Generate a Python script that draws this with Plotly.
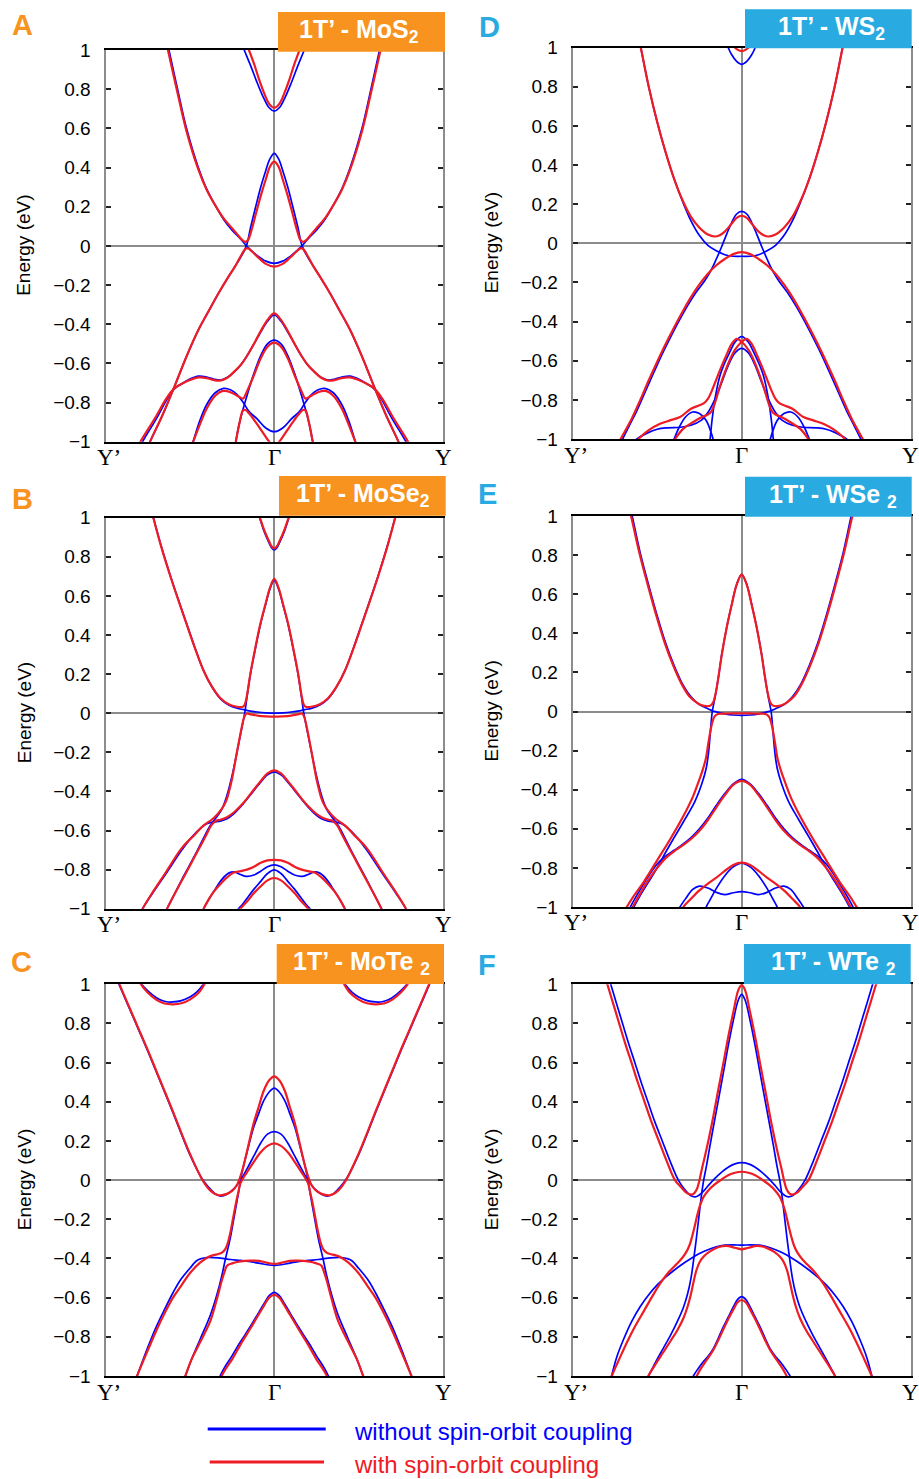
import plotly.graph_objects as go

W, H = 919, 1479

# ---------------------------------------------------------------- axes text
K_TICKS = [-1, 0, 1]
K_LABELS = ["Y’", "Γ", "Y"]
E_TICKS = [1, 0.8, 0.6, 0.4, 0.2, 0, -0.2, -0.4, -0.6, -0.8, -1]
E_LABELS = ["1", "0.8", "0.6", "0.4", "0.2", "0", "−0.2", "−0.4", "−0.6", "−0.8", "−1"]

LEGEND_NO_SOC = "without spin-orbit coupling"
LEGEND_SOC = "with spin-orbit coupling"

# ---------------------------------------------------------------- band knots
# Each list holds (k, E) knots along Γ→Y (k in units of Γ–Y); the Y'→Γ half
# is the mirror image.  E in eV relative to the Fermi level.

# A: 1T'-MoS2
A_blue_c2 = [(0, 0.688), (0.03, 0.705), (0.06, 0.75), (0.1, 0.83), (0.14, 0.92), (0.178, 1.0), (0.21, 1.07)]
A_red_c2 = [(0, 0.705), (0.03, 0.725), (0.06, 0.78), (0.09, 0.85), (0.12, 0.93), (0.15, 1.0), (0.18, 1.07)]
A_blue_v1 = [(0, 0.472), (0.025, 0.445), (0.05, 0.385), (0.08, 0.3), (0.11, 0.2), (0.14, 0.095), (0.165, 0.0),
             (0.2, -0.06), (0.233, -0.106), (0.28, -0.17), (0.331, -0.243), (0.39, -0.335), (0.45, -0.43),
             (0.52, -0.565), (0.588, -0.711), (0.66, -0.86), (0.736, -1.0), (0.76, -1.05)]
A_blue_c1 = [(0, -0.089), (0.05, -0.078), (0.1, -0.05), (0.14, -0.02), (0.165, 0.0), (0.2, 0.035), (0.25, 0.08),
             (0.3, 0.135), (0.345, 0.2), (0.4, 0.29), (0.45, 0.4), (0.52, 0.6), (0.573, 0.8), (0.624, 1.0), (0.65, 1.1)]
A_red_c1 = [(0, 0.43), (0.025, 0.405), (0.05, 0.34), (0.08, 0.255), (0.11, 0.16), (0.135, 0.08), (0.155, 0.03),
            (0.17, 0.02), (0.19, 0.03), (0.22, 0.06), (0.25, 0.09), (0.3, 0.14), (0.345, 0.2), (0.4, 0.285),
            (0.45, 0.39), (0.52, 0.585), (0.578, 0.8), (0.63, 1.0), (0.655, 1.1)]
A_red_v1 = [(0, -0.106), (0.05, -0.092), (0.1, -0.055), (0.13, -0.03), (0.155, -0.013), (0.17, -0.015),
            (0.2, -0.055), (0.233, -0.106), (0.28, -0.17), (0.331, -0.243), (0.39, -0.335), (0.45, -0.43),
            (0.52, -0.565), (0.588, -0.711), (0.66, -0.86), (0.736, -1.0), (0.76, -1.05)]
A_blue_v2 = [(0, -0.353), (0.04, -0.385), (0.08, -0.44), (0.12, -0.5), (0.16, -0.56), (0.2, -0.61), (0.24, -0.645),
             (0.28, -0.672), (0.32, -0.685), (0.36, -0.68), (0.4, -0.67), (0.448, -0.665), (0.5, -0.68),
             (0.55, -0.705), (0.592, -0.73), (0.64, -0.79), (0.7, -0.885), (0.78, -1.0), (0.8, -1.04)]
A_red_v2 = [(0, -0.345), (0.04, -0.378), (0.08, -0.435), (0.12, -0.5), (0.16, -0.56), (0.2, -0.61), (0.24, -0.645),
            (0.28, -0.675), (0.32, -0.688), (0.36, -0.685), (0.4, -0.675), (0.448, -0.672), (0.5, -0.685),
            (0.55, -0.705), (0.592, -0.728), (0.64, -0.78), (0.7, -0.87), (0.793, -1.0), (0.81, -1.03)]
A_blue_v3 = [(0, -0.481), (0.04, -0.5), (0.08, -0.56), (0.12, -0.65), (0.16, -0.76), (0.19, -0.85), (0.21, -0.92),
             (0.228, -1.0), (0.24, -1.05)]
A_blue_v4 = [(0, -0.949), (0.05, -0.93), (0.1, -0.885), (0.15, -0.845), (0.18, -0.805), (0.22, -0.76),
             (0.26, -0.735), (0.3, -0.728), (0.35, -0.75), (0.4, -0.81), (0.44, -0.89), (0.481, -1.0), (0.5, -1.05)]
A_red_v3 = [(0, -0.494), (0.04, -0.515), (0.08, -0.574), (0.12, -0.66), (0.16, -0.74), (0.185, -0.78),
            (0.2, -0.775), (0.24, -0.755), (0.28, -0.742), (0.31, -0.742), (0.35, -0.765), (0.4, -0.83),
            (0.44, -0.91), (0.48, -1.0), (0.5, -1.05)]
A_red_v4 = [(0, -1.03), (0.03, -1.0), (0.07, -0.95), (0.11, -0.9), (0.145, -0.86), (0.17, -0.838), (0.185, -0.84),
            (0.205, -0.9), (0.228, -1.0), (0.24, -1.05)]

# B: 1T'-MoSe2
B_blue_c2 = [(0, 0.835), (0.015, 0.845), (0.03, 0.87), (0.06, 0.93), (0.087, 1.0), (0.11, 1.05)]
B_red_c2 = [(0, 0.843), (0.015, 0.853), (0.03, 0.878), (0.06, 0.938), (0.085, 1.0), (0.11, 1.06)]
B_blue_v1 = [(0, 0.679), (0.024, 0.64), (0.053, 0.55), (0.083, 0.45), (0.112, 0.33), (0.142, 0.195),
             (0.162, 0.08), (0.175, 0.0), (0.191, -0.07), (0.221, -0.2), (0.25, -0.32), (0.28, -0.42),
             (0.31, -0.49), (0.345, -0.535), (0.38, -0.575), (0.42, -0.64), (0.46, -0.71), (0.5, -0.775),
             (0.55, -0.855), (0.6, -0.94), (0.635, -1.0), (0.65, -1.03)]
B_blue_c1 = [(0, 0.0), (0.05, 0.002), (0.1, 0.006), (0.15, 0.012), (0.18, 0.018), (0.22, 0.025), (0.27, 0.042),
             (0.32, 0.075), (0.37, 0.135), (0.42, 0.22), (0.47, 0.335), (0.52, 0.46), (0.57, 0.585),
             (0.62, 0.715), (0.67, 0.855), (0.716, 1.0), (0.75, 1.11)]
B_red_c1 = [(0, 0.687), (0.024, 0.645), (0.053, 0.555), (0.083, 0.455), (0.112, 0.335), (0.142, 0.2),
            (0.162, 0.09), (0.177, 0.04), (0.19, 0.032), (0.22, 0.033), (0.27, 0.046), (0.32, 0.078),
            (0.37, 0.137), (0.42, 0.22), (0.47, 0.333), (0.52, 0.457), (0.57, 0.582), (0.62, 0.712),
            (0.67, 0.852), (0.717, 1.0), (0.75, 1.11)]
B_red_v1 = [(0, -0.018), (0.05, -0.016), (0.1, -0.012), (0.14, -0.006), (0.165, -0.002), (0.178, -0.02),
            (0.191, -0.065), (0.206, -0.13), (0.221, -0.198), (0.236, -0.27), (0.25, -0.335), (0.265, -0.39),
            (0.28, -0.437), (0.3, -0.475), (0.32, -0.5), (0.345, -0.525), (0.371, -0.545), (0.42, -0.575),
            (0.47, -0.62), (0.548, -0.69), (0.647, -0.82), (0.72, -0.915), (0.78, -1.0), (0.8, -1.04)]
B_blue_v2 = [(0, -0.3), (0.04, -0.315), (0.083, -0.355), (0.12, -0.395), (0.162, -0.44), (0.2, -0.48),
             (0.24, -0.515), (0.28, -0.54), (0.32, -0.552), (0.36, -0.556), (0.4, -0.565), (0.44, -0.59),
             (0.49, -0.635), (0.548, -0.7), (0.647, -0.828), (0.72, -0.92), (0.78, -1.0), (0.8, -1.04)]
B_red_v2 = [(0, -0.292), (0.04, -0.308), (0.083, -0.35), (0.12, -0.39), (0.162, -0.437), (0.2, -0.475),
            (0.24, -0.508), (0.28, -0.532), (0.32, -0.545), (0.345, -0.55), (0.37, -0.57), (0.41, -0.635),
            (0.46, -0.715), (0.5, -0.78), (0.55, -0.86), (0.6, -0.94), (0.635, -1.0), (0.65, -1.03)]
B_red_v3 = [(0, -0.75), (0.04, -0.753), (0.08, -0.765), (0.12, -0.785), (0.162, -0.8), (0.2, -0.808),
            (0.24, -0.815), (0.28, -0.84), (0.32, -0.875), (0.36, -0.915), (0.39, -0.955), (0.418, -1.0),
            (0.43, -1.03)]
B_blue_v3 = [(0, -0.776), (0.04, -0.785), (0.08, -0.808), (0.12, -0.828), (0.165, -0.835), (0.2, -0.825),
             (0.235, -0.812), (0.27, -0.818), (0.31, -0.85), (0.35, -0.9), (0.39, -0.955), (0.418, -1.0),
             (0.43, -1.03)]
B_blue_v4 = [(0, -0.801), (0.04, -0.82), (0.08, -0.86), (0.12, -0.9), (0.16, -0.945), (0.19, -0.98),
             (0.212, -1.0), (0.23, -1.03)]
B_red_v4 = [(0, -0.843), (0.04, -0.855), (0.08, -0.885), (0.12, -0.92), (0.16, -0.962), (0.2, -1.0), (0.22, -1.03)]

# C: 1T'-MoTe2
C_blue_c2 = [(0.4, 1.03), (0.42, 1.0), (0.46, 0.96), (0.5, 0.935), (0.55, 0.917), (0.6, 0.91), (0.64, 0.911),
             (0.68, 0.922), (0.72, 0.945), (0.76, 0.975), (0.785, 1.0), (0.8, 1.02)]
C_red_c2 = [(0.39, 1.03), (0.414, 1.0), (0.45, 0.955), (0.5, 0.922), (0.55, 0.903), (0.6, 0.898), (0.65, 0.902),
            (0.7, 0.922), (0.75, 0.958), (0.79, 1.0), (0.81, 1.03)]
C_blue_c1 = [(0, 0.248), (0.04, 0.235), (0.08, 0.19), (0.12, 0.125), (0.16, 0.06), (0.2, 0.0), (0.24, -0.045),
             (0.28, -0.072), (0.315, -0.082), (0.35, -0.07), (0.39, -0.035), (0.43, 0.01), (0.5, 0.13),
             (0.55, 0.235), (0.6, 0.345), (0.65, 0.45), (0.7, 0.555), (0.75, 0.66), (0.8, 0.76), (0.85, 0.86),
             (0.9, 0.96), (0.92, 1.0), (0.95, 1.06)]
C_red_c1 = [(0, 0.53), (0.03, 0.51), (0.063, 0.455), (0.09, 0.38), (0.122, 0.29), (0.162, 0.145), (0.191, 0.045),
            (0.221, -0.025), (0.25, -0.055), (0.28, -0.07), (0.33, -0.077), (0.38, -0.052), (0.425, 0.0),
            (0.5, 0.135), (0.55, 0.24), (0.6, 0.35), (0.65, 0.455), (0.7, 0.56), (0.75, 0.665), (0.8, 0.765),
            (0.85, 0.865), (0.9, 0.965), (0.917, 1.0), (0.95, 1.07)]
C_blue_v1 = [(0, 0.47), (0.03, 0.45), (0.063, 0.405), (0.09, 0.345), (0.122, 0.27), (0.162, 0.14),
             (0.191, 0.04), (0.211, -0.06), (0.24, -0.199), (0.26, -0.293), (0.29, -0.405), (0.31, -0.485),
             (0.34, -0.585), (0.379, -0.69), (0.438, -0.81), (0.49, -0.915), (0.527, -1.0), (0.54, -1.03)]
C_red_v1 = [(0, 0.188), (0.04, 0.175), (0.083, 0.14), (0.12, 0.095), (0.162, 0.04), (0.2, -0.015),
            (0.215, -0.07), (0.23, -0.13), (0.245, -0.2), (0.26, -0.267), (0.275, -0.32), (0.29, -0.352),
            (0.31, -0.37), (0.33, -0.377), (0.36, -0.383), (0.39, -0.392), (0.438, -0.42), (0.5, -0.475),
            (0.556, -0.545), (0.6, -0.6), (0.65, -0.68), (0.7, -0.77), (0.75, -0.87), (0.813, -1.0), (0.83, -1.04)]
C_blue_v2 = [(0, -0.435), (0.04, -0.432), (0.083, -0.425), (0.15, -0.415), (0.2, -0.41), (0.26, -0.405),
             (0.32, -0.398), (0.389, -0.394), (0.43, -0.4), (0.458, -0.41), (0.5, -0.45), (0.556, -0.51),
             (0.6, -0.575), (0.65, -0.66), (0.7, -0.75), (0.75, -0.855), (0.813, -1.0), (0.83, -1.04)]
C_red_v2 = [(0, -0.428), (0.04, -0.422), (0.09, -0.412), (0.142, -0.411), (0.2, -0.415), (0.25, -0.425),
            (0.28, -0.437), (0.295, -0.47), (0.31, -0.51), (0.34, -0.607), (0.379, -0.72), (0.438, -0.825),
            (0.49, -0.915), (0.527, -1.0), (0.54, -1.03)]
C_blue_v3 = [(0, -0.573), (0.03, -0.59), (0.06, -0.63), (0.095, -0.68), (0.14, -0.745), (0.193, -0.816),
             (0.225, -0.86), (0.252, -0.9), (0.29, -0.95), (0.321, -1.0), (0.335, -1.03)]
C_red_v3 = [(0, -0.586), (0.03, -0.6), (0.06, -0.64), (0.095, -0.69), (0.14, -0.755), (0.19, -0.825),
            (0.22, -0.87), (0.25, -0.915), (0.285, -0.96), (0.312, -1.0), (0.325, -1.03)]

# D: 1T'-WS2
D_blue_c2 = [(0, 0.915), (0.03, 0.93), (0.06, 0.965), (0.085, 1.01), (0.1, 1.04)]
D_red_c2 = [(0, 0.982), (0.025, 0.99), (0.05, 1.01), (0.07, 1.04)]
D_red_c1 = [(0, 0.141), (0.03, 0.13), (0.06, 0.1), (0.1, 0.06), (0.13, 0.042), (0.16, 0.035), (0.2, 0.045),
            (0.25, 0.08), (0.3, 0.135), (0.35, 0.22), (0.4, 0.33), (0.45, 0.465), (0.5, 0.62), (0.55, 0.8),
            (0.59, 0.97), (0.62, 1.1)]
D_blue_c1 = [(0, -0.066), (0.05, -0.066), (0.1, -0.058), (0.15, -0.038), (0.2, -0.01), (0.25, 0.04),
             (0.3, 0.115), (0.35, 0.215), (0.4, 0.33), (0.45, 0.465), (0.5, 0.62), (0.55, 0.8), (0.59, 0.97),
             (0.62, 1.1)]
D_blue_v1 = [(0, 0.163), (0.03, 0.15), (0.06, 0.105), (0.09, 0.045), (0.12, -0.02), (0.15, -0.08),
             (0.18, -0.135), (0.22, -0.192), (0.27, -0.25), (0.32, -0.318), (0.37, -0.395), (0.42, -0.478),
             (0.47, -0.565), (0.52, -0.66), (0.57, -0.757), (0.62, -0.855), (0.67, -0.94), (0.71, -1.01),
             (0.73, -1.05)]
D_red_v1 = [(0, -0.045), (0.05, -0.055), (0.1, -0.08), (0.15, -0.112), (0.2, -0.155), (0.25, -0.21),
            (0.3, -0.275), (0.35, -0.35), (0.4, -0.43), (0.45, -0.515), (0.5, -0.605), (0.55, -0.7), (0.6, -0.8),
            (0.65, -0.895), (0.716, -1.0), (0.74, -1.04)]
D_blue_v2 = [(0, -0.477), (0.04, -0.505), (0.07, -0.555), (0.1, -0.61), (0.13, -0.68), (0.155, -0.78),
             (0.175, -0.9), (0.187, -1.0), (0.195, -1.06)]
D_blue_v3 = [(0, -0.537), (0.04, -0.56), (0.08, -0.625), (0.12, -0.715), (0.16, -0.8), (0.2, -0.865),
             (0.24, -0.905), (0.3, -0.93), (0.36, -0.94), (0.44, -0.943), (0.5, -0.95), (0.56, -0.97), (0.62, -1.0),
             (0.65, -1.03)]
D_blue_v4 = [(0.16, -1.03), (0.18, -0.97), (0.21, -0.905), (0.25, -0.87), (0.29, -0.862), (0.33, -0.885),
             (0.37, -0.94), (0.4, -1.0), (0.42, -1.04)]
# spin-split pair crossing at Γ: knots run across the whole path Y'→Y
D_red_v2_path = [(-0.42, -1.04), (-0.394, -1.0), (-0.345, -0.947), (-0.286, -0.913), (-0.24, -0.89),
                 (-0.2, -0.875), (-0.18, -0.86), (-0.16, -0.82), (-0.13, -0.735), (-0.1, -0.66), (-0.07, -0.595),
                 (-0.04, -0.545), (0, -0.503), (0.03, -0.488), (0.06, -0.515), (0.09, -0.57), (0.12, -0.63),
                 (0.15, -0.695), (0.175, -0.75), (0.2, -0.795), (0.225, -0.818), (0.25, -0.828), (0.3, -0.845),
                 (0.365, -0.888), (0.424, -0.905), (0.483, -0.922), (0.55, -0.955), (0.611, -1.0), (0.64, -1.03)]

# E: 1T'-WSe2
E_blue_v1 = [(0, 0.702), (0.03, 0.65), (0.059, 0.548), (0.089, 0.429), (0.118, 0.292), (0.138, 0.173),
             (0.158, 0.071), (0.174, 0.0), (0.185, -0.1), (0.195, -0.2), (0.21, -0.29), (0.237, -0.372),
             (0.276, -0.458), (0.335, -0.55), (0.4, -0.645), (0.45, -0.72), (0.5, -0.8), (0.55, -0.87),
             (0.6, -0.94), (0.638, -1.0), (0.66, -1.04)]
E_blue_c1 = [(0, -0.02), (0.05, -0.018), (0.1, -0.012), (0.15, -0.002), (0.174, 0.004), (0.2, 0.014),
             (0.25, 0.035), (0.3, 0.075), (0.35, 0.14), (0.4, 0.235), (0.45, 0.35), (0.5, 0.49), (0.55, 0.645),
             (0.6, 0.81), (0.648, 1.0), (0.67, 1.08)]
E_red_c1 = [(0, 0.7), (0.03, 0.648), (0.059, 0.546), (0.089, 0.428), (0.118, 0.29), (0.138, 0.175), (0.155, 0.09),
            (0.17, 0.045), (0.185, 0.03), (0.207, 0.027), (0.24, 0.033), (0.27, 0.048), (0.31, 0.078),
            (0.355, 0.14), (0.405, 0.235), (0.455, 0.35), (0.505, 0.49), (0.555, 0.645), (0.605, 0.81),
            (0.655, 1.0), (0.68, 1.08)]
E_red_v1 = [(0, -0.009), (0.05, -0.01), (0.1, -0.011), (0.14, -0.013), (0.16, -0.025), (0.172, -0.05),
            (0.185, -0.1), (0.197, -0.16), (0.212, -0.24), (0.235, -0.31), (0.26, -0.37), (0.286, -0.43),
            (0.345, -0.535), (0.424, -0.655), (0.503, -0.765), (0.582, -0.875), (0.64, -0.945), (0.68, -1.0),
            (0.7, -1.03)]
E_blue_v2 = [(0, -0.347), (0.05, -0.37), (0.1, -0.42), (0.15, -0.48), (0.2, -0.545), (0.25, -0.6), (0.3, -0.645),
             (0.35, -0.68), (0.4, -0.71), (0.45, -0.74), (0.5, -0.78), (0.55, -0.84), (0.6, -0.91), (0.65, -0.985),
             (0.68, -1.04)]
E_red_v2 = [(0, -0.355), (0.05, -0.375), (0.1, -0.428), (0.15, -0.49), (0.2, -0.555), (0.25, -0.61),
            (0.3, -0.652), (0.35, -0.685), (0.4, -0.715), (0.45, -0.75), (0.5, -0.8), (0.55, -0.86), (0.6, -0.93),
            (0.645, -1.0), (0.67, -1.04)]
E_red_v3 = [(0, -0.773), (0.05, -0.785), (0.1, -0.815), (0.15, -0.85), (0.2, -0.88), (0.25, -0.915),
            (0.3, -0.958), (0.345, -1.0), (0.36, -1.03)]
E_blue_v3 = [(0, -0.776), (0.05, -0.795), (0.1, -0.84), (0.15, -0.905), (0.185, -0.96), (0.21, -1.0), (0.22, -1.03)]
E_blue_v4 = [(0, -0.921), (0.05, -0.927), (0.1, -0.937), (0.15, -0.925), (0.2, -0.903), (0.25, -0.893),
             (0.29, -0.91), (0.33, -0.955), (0.365, -1.0), (0.38, -1.03)]

# F: 1T'-WTe2
F_blue_v1 = [(0, 0.949), (0.02, 0.92), (0.049, 0.818), (0.08, 0.685), (0.108, 0.55), (0.14, 0.4), (0.168, 0.27),
             (0.19, 0.165), (0.208, 0.075), (0.225, 0.0), (0.24, -0.09), (0.255, -0.2), (0.27, -0.31),
             (0.285, -0.41), (0.3, -0.5), (0.32, -0.58), (0.345, -0.65), (0.38, -0.72), (0.42, -0.79),
             (0.465, -0.86), (0.51, -0.93), (0.552, -1.0), (0.57, -1.03)]
F_red_c1 = [(0, 0.997), (0.02, 0.97), (0.049, 0.86), (0.08, 0.73), (0.108, 0.6), (0.14, 0.455), (0.168, 0.325),
            (0.195, 0.21), (0.217, 0.125), (0.235, 0.06), (0.25, 0.0), (0.265, -0.045), (0.285, -0.07),
            (0.305, -0.073), (0.33, -0.062), (0.36, -0.035), (0.395, 0.0), (0.445, 0.1), (0.49, 0.2),
            (0.535, 0.3), (0.575, 0.4), (0.615, 0.5), (0.652, 0.6), (0.69, 0.7), (0.725, 0.8), (0.76, 0.9),
            (0.795, 1.0), (0.82, 1.07)]
F_blue_c1 = [(0, 0.089), (0.04, 0.083), (0.08, 0.066), (0.12, 0.04), (0.16, 0.008), (0.2, -0.03), (0.23, -0.06),
             (0.255, -0.078), (0.275, -0.085), (0.3, -0.08), (0.335, -0.05), (0.375, 0.0), (0.425, 0.1),
             (0.47, 0.2), (0.515, 0.3), (0.555, 0.4), (0.595, 0.5), (0.632, 0.6), (0.67, 0.7), (0.705, 0.8),
             (0.74, 0.9), (0.775, 1.0), (0.8, 1.07)]
F_red_v1 = [(0, 0.043), (0.04, 0.038), (0.08, 0.025), (0.12, 0.003), (0.16, -0.022), (0.2, -0.055),
            (0.225, -0.085), (0.245, -0.125), (0.262, -0.175), (0.278, -0.235), (0.294, -0.29), (0.31, -0.335),
            (0.33, -0.37), (0.355, -0.4), (0.385, -0.428), (0.43, -0.468), (0.48, -0.525), (0.53, -0.595),
            (0.58, -0.67), (0.63, -0.745), (0.68, -0.83), (0.72, -0.905), (0.769, -1.0), (0.78, -1.03)]
F_blue_v2 = [(0, -0.332), (0.05, -0.33), (0.1, -0.332), (0.15, -0.34), (0.2, -0.355), (0.25, -0.375),
             (0.3, -0.4), (0.35, -0.428), (0.4, -0.46), (0.45, -0.495), (0.5, -0.535), (0.55, -0.585),
             (0.6, -0.645), (0.65, -0.72), (0.7, -0.815), (0.74, -0.905), (0.77, -1.0), (0.78, -1.04)]
F_red_v2 = [(0, -0.353), (0.04, -0.345), (0.09, -0.336), (0.14, -0.343), (0.19, -0.365), (0.225, -0.39),
            (0.25, -0.42), (0.268, -0.46), (0.285, -0.52), (0.3, -0.58), (0.32, -0.645), (0.345, -0.705),
            (0.38, -0.765), (0.42, -0.82), (0.465, -0.88), (0.51, -0.94), (0.552, -1.0), (0.565, -1.03)]
F_blue_v3 = [(0, -0.595), (0.025, -0.61), (0.049, -0.646), (0.08, -0.7), (0.108, -0.748), (0.14, -0.81),
             (0.168, -0.86), (0.2, -0.9), (0.23, -0.93), (0.26, -0.965), (0.286, -1.0), (0.3, -1.03)]
F_red_v3 = [(0, -0.612), (0.025, -0.625), (0.049, -0.66), (0.08, -0.71), (0.108, -0.76), (0.14, -0.82),
            (0.168, -0.867), (0.207, -0.918), (0.24, -0.96), (0.266, -1.0), (0.28, -1.03)]

# ---------------------------------------------------------------- styling
BLUE = "#0000ff"
RED = "#ee1c24"
ORANGE = "#f7931e"
SKY = "#29abe2"
GREY = "#8c8c8c"
SANS = "Liberation Sans, Arial, sans-serif"
SERIF = "Liberation Serif, Times New Roman, serif"

# panel frames in pixels: (left, right, top, bottom)
PANELS = [
    dict(letter="A", colour=ORANGE, title="1T’ - MoS<sub>2</sub>", frame=(105.5, 443, 50, 441.7),
         box=(278, 445, 12, 51.7), title_xy=(359, 31), letter_xy=(22.5, 25),
         blue=[A_blue_c2, A_blue_v1, A_blue_c1, A_blue_v2, A_blue_v3, A_blue_v4],
         red=[A_red_c2, A_red_c1, A_red_v1, A_red_v2, A_red_v3, A_red_v4], red_paths=[]),
    dict(letter="B", colour=ORANGE, title="1T’ - MoSe<sub>2</sub>", frame=(105.5, 443, 517.7, 908.7),
         box=(279, 445.7, 476, 515.7), title_xy=(362.5, 495), letter_xy=(22, 499),
         blue=[B_blue_c2, B_blue_v1, B_blue_c1, B_blue_v2, B_blue_v3, B_blue_v4],
         red=[B_red_c2, B_red_c1, B_red_v1, B_red_v2, B_red_v3, B_red_v4], red_paths=[]),
    dict(letter="C", colour=ORANGE, title="1T’ - MoTe <sub>2</sub>", frame=(105.5, 443, 984.3, 1376),
         box=(276.7, 444, 944, 984), title_xy=(361, 963), letter_xy=(21.7, 961.5),
         blue=[C_blue_c2, C_blue_c1, C_blue_v1, C_blue_v2, C_blue_v3],
         red=[C_red_c2, C_red_c1, C_red_v1, C_red_v2, C_red_v3], red_paths=[]),
    dict(letter="D", colour=SKY, title="1T’ - WS<sub>2</sub>", frame=(572.7, 910.7, 47.7, 439),
         box=(745, 911.7, 9.3, 48.3), title_xy=(831.7, 28.5), letter_xy=(489.5, 26.5),
         blue=[D_blue_c2, D_blue_c1, D_blue_v1, D_blue_v2, D_blue_v3, D_blue_v4],
         red=[D_red_c2, D_red_c1, D_red_v1], red_paths=[D_red_v2_path]),
    dict(letter="E", colour=SKY, title="1T’ - WSe <sub>2</sub>", frame=(572.7, 910.7, 516, 907),
         box=(745, 911.7, 476.7, 516.7), title_xy=(833, 496), letter_xy=(488, 494.5),
         blue=[E_blue_v1, E_blue_c1, E_blue_v2, E_blue_v3, E_blue_v4],
         red=[E_red_c1, E_red_v1, E_red_v2, E_red_v3], red_paths=[]),
    dict(letter="F", colour=SKY, title="1T’ - WTe <sub>2</sub>", frame=(572.7, 910.7, 984.3, 1376),
         box=(744, 910.7, 944, 984), title_xy=(833.5, 963), letter_xy=(487, 965),
         blue=[F_blue_v1, F_blue_c1, F_blue_v2, F_blue_v3],
         red=[F_red_c1, F_red_v1, F_red_v2, F_red_v3], red_paths=[]),
]


def px(x):
    return x / W


def py(y):
    return 1 - y / H


def mirrored(half):
    """Join the Y'→Γ mirror image to a Γ→Y half band."""
    if half[0][0] == 0:
        pts = [(-k, e) for k, e in reversed(half[1:])] + list(half)
    else:
        pts = [(-k, e) for k, e in reversed(half)] + [(None, None)] + list(half)
    return [p[0] for p in pts], [p[1] for p in pts]


def flipped(path):
    pts = [(-k, e) for k, e in reversed(path)]
    return [p[0] for p in pts], [p[1] for p in pts]


fig = go.Figure()
shapes, annotations = [], []
layout = {}

for i, p in enumerate(PANELS):
    suffix = "" if i == 0 else str(i + 1)
    xa, ya = "x" + suffix, "y" + suffix

    def add(xs, ys, colour, width):
        fig.add_trace(go.Scatter(
            x=xs, y=ys, xaxis=xa, yaxis=ya, mode="lines", showlegend=False, hoverinfo="skip",
            line=dict(color=colour, width=width, shape="spline", smoothing=1.0)))

    for band in p["blue"]:
        add(*mirrored(band), BLUE, 1.7)
    for band in p["red"]:
        add(*mirrored(band), RED, 2.2)
    for path in p["red_paths"]:
        add([q[0] for q in path], [q[1] for q in path], RED, 2.2)
        add(*flipped(path), RED, 2.2)

    l, r, t, b = p["frame"]
    layout["xaxis" + suffix] = dict(
        domain=[px(l), px(r)], anchor=ya, range=[-1, 1], fixedrange=True, automargin=False,
        showline=True, linecolor="black", linewidth=2.2, mirror=True,
        ticks="", tickvals=K_TICKS, showticklabels=False,
        showgrid=False, zeroline=True, zerolinecolor=GREY, zerolinewidth=1.6)
    layout["yaxis" + suffix] = dict(
        domain=[py(b), py(t)], anchor=xa, range=[-1, 1], fixedrange=True, automargin=False,
        showline=True, linecolor=GREY, linewidth=2, mirror="ticks",
        ticks="inside", ticklen=5, tickwidth=1.5, tickcolor="#222222",
        tickvals=E_TICKS, ticktext=E_LABELS, ticklabelstandoff=9,
        tickfont=dict(family=SANS, size=19, color="black"),
        showgrid=False, zeroline=True, zerolinecolor=GREY, zerolinewidth=1.6)

    # k-point labels under the frame
    for kv, lab in zip(K_TICKS, K_LABELS):
        annotations.append(dict(xref=xa, yref="paper", x=kv, y=py(b + 16), xanchor="center",
                                yanchor="middle", showarrow=False, text=lab,
                                xshift=3 if lab == "Y’" else 0,
                                font=dict(family=SERIF, size=23, color="black")))

    bx0, bx1, by0, by1 = p["box"]
    shapes.append(dict(type="rect", xref="paper", yref="paper", x0=px(bx0), x1=px(bx1),
                       y0=py(by1), y1=py(by0), fillcolor=p["colour"], line=dict(width=0), layer="above"))
    tx, ty = p["title_xy"]
    annotations.append(dict(xref="paper", yref="paper", x=px(tx), y=py(ty), xanchor="center",
                            yanchor="middle", showarrow=False, text="<b>" + p["title"] + "</b>",
                            font=dict(family=SANS, size=25, color="white")))
    lx, ly = p["letter_xy"]
    annotations.append(dict(xref="paper", yref="paper", x=px(lx), y=py(ly), xanchor="center",
                            yanchor="middle", showarrow=False, text="<b>" + p["letter"] + "</b>",
                            font=dict(family=SANS, size=29, color=p["colour"])))
    annotations.append(dict(xref="paper", yref="paper", x=px(24 if l < 300 else 491), y=py((t + b) / 2),
                            xanchor="center", yanchor="middle", showarrow=False, textangle=-90,
                            text="Energy (eV)", font=dict(family=SANS, size=19, color="black")))

# legend
for colour, y, x0, x1, text in [(BLUE, 1429, 207.7, 325.7, LEGEND_NO_SOC), (RED, 1462, 209.7, 324, LEGEND_SOC)]:
    shapes.append(dict(type="line", xref="paper", yref="paper", x0=px(x0), x1=px(x1), y0=py(y), y1=py(y),
                       line=dict(color=colour, width=2.8)))
    annotations.append(dict(xref="paper", yref="paper", x=px(351.5), y=py(y + 2), xanchor="left",
                            yanchor="middle", showarrow=False, text=text,
                            font=dict(family=SANS, size=24, color=colour)))

fig.update_layout(
    template="none",
    width=W, height=H, margin=dict(l=0, r=0, t=0, b=0, pad=0),
    paper_bgcolor="white", plot_bgcolor="white",
    shapes=shapes, annotations=annotations, **layout)

fig.write_html("out.html", include_plotlyjs=True, config={"displayModeBar": False})
